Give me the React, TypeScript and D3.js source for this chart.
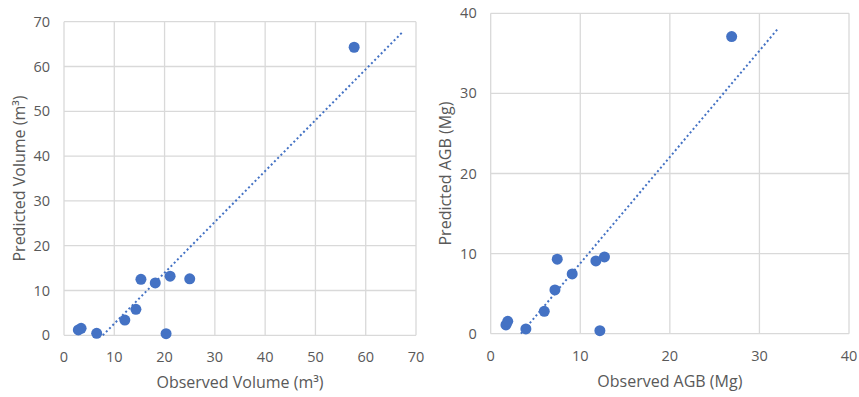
import React from "react";
import * as d3 from "d3";

// Volume panel data
const volObserved = [2.85, 3.4, 6.5, 12.1, 14.3, 15.3, 18.15, 21.1, 25.0, 20.3, 57.7];
const volPredicted = [1.2, 1.55, 0.45, 3.4, 5.8, 12.5, 11.7, 13.2, 12.6, 0.35, 64.3];
const volTicks = [0, 10, 20, 30, 40, 50, 60, 70];

// AGB panel data
const agbObserved = [1.7, 1.9, 3.93, 5.98, 7.17, 7.43, 9.1, 11.74, 12.7, 12.19, 26.9];
const agbPredicted = [1.1, 1.55, 0.6, 2.8, 5.46, 9.3, 7.46, 9.09, 9.59, 0.38, 37.1];
const agbTicks = [0, 10, 20, 30, 40];

const BLUE = "#4472C4";
const GRID = "#d9d9d9";
const TXT = "#595959";
const FONT = "'Open Sans', 'Noto Sans', sans-serif";

type PanelProps = {
  xs: number[];
  ys: number[];
  ticks: number[];
  max: number;
  forecast: number;
  left: number;
  right: number;
  top: number;
  bottom: number;
  xTitle: string;
  yTitle: string;
  yTitleX: number;
};

function regression(xs: number[], ys: number[]) {
  const mx = d3.mean(xs)!;
  const my = d3.mean(ys)!;
  let sxy = 0, sxx = 0;
  xs.forEach((x, i) => {
    sxy += (x - mx) * (ys[i] - my);
    sxx += (x - mx) * (x - mx);
  });
  const slope = sxy / sxx;
  return { slope, intercept: my - slope * mx };
}

function Panel(p: PanelProps) {
  const x = d3.scaleLinear().domain([0, p.max]).range([p.left, p.right]);
  const y = d3.scaleLinear().domain([0, p.max]).range([p.bottom, p.top]);
  const { slope, intercept } = regression(p.xs, p.ys);
  const x0 = Math.max(d3.min(p.xs)!, -intercept / slope);
  const x1 = d3.max(p.xs)! + p.forecast;
  const line = d3.line<number>().x((v) => x(v)).y((v) => y(slope * v + intercept));
  return (
    <g>
      {p.ticks.map((t) => (
        <line key={"gx" + t} x1={x(t)} x2={x(t)} y1={y(0)} y2={y(p.max)} stroke={GRID} strokeWidth={1.3} />
      ))}
      {p.ticks.map((t) => (
        <line key={"gy" + t} x1={x(0)} x2={x(p.max)} y1={y(t)} y2={y(t)} stroke={GRID} strokeWidth={1.3} />
      ))}
      {p.ticks.map((t) => (
        <text key={"tx" + t} x={x(t)} y={p.bottom + 27} textAnchor="middle" fontSize={14.5} fill={TXT} fontFamily={FONT}>
          {t}
        </text>
      ))}
      {p.ticks.map((t) => (
        <text key={"ty" + t} x={p.left - 14} y={y(t) + 5} textAnchor="end" fontSize={14.5} fill={TXT} fontFamily={FONT}>
          {t}
        </text>
      ))}
      <path d={line([x0, x1]) || ""} fill="none" stroke={BLUE} strokeWidth={2} strokeDasharray="2 2.6" />
      {p.xs.map((v, i) => (
        <circle key={"pt" + i} cx={x(v)} cy={y(p.ys[i])} r={5.5} fill={BLUE} />
      ))}
      <text x={(p.left + p.right) / 2} y={p.bottom + 53} textAnchor="middle" fontSize={16} fill={TXT} fontFamily={FONT}>
        {p.xTitle}
      </text>
      <text
        transform={`translate(${p.yTitleX},${(p.top + p.bottom) / 2}) rotate(-90)`}
        textAnchor="middle"
        dy="0.35em"
        fontSize={16}
        fill={TXT}
        fontFamily={FONT}
      >
        {p.yTitle}
      </text>
    </g>
  );
}

export default function App() {
  return (
    <svg width={859} height={397} style={{ position: "absolute", left: 0, top: 0, background: "#fff" }}>
      <rect width={859} height={397} fill="#fff" />
      <Panel
        xs={volObserved}
        ys={volPredicted}
        ticks={volTicks}
        max={70}
        forecast={9.8}
        left={64}
        right={416}
        top={21.7}
        bottom={335.3}
        xTitle="Observed Volume (m³)"
        yTitle="Predicted Volume (m³)"
        yTitleX={19}
      />
      <Panel
        xs={agbObserved}
        ys={agbPredicted}
        ticks={agbTicks}
        max={40}
        forecast={5.1}
        left={490.7}
        right={849}
        top={13.3}
        bottom={333.7}
        xTitle="Observed AGB (Mg)"
        yTitle="Predicted AGB (Mg)"
        yTitleX={445}
      />
    </svg>
  );
}
